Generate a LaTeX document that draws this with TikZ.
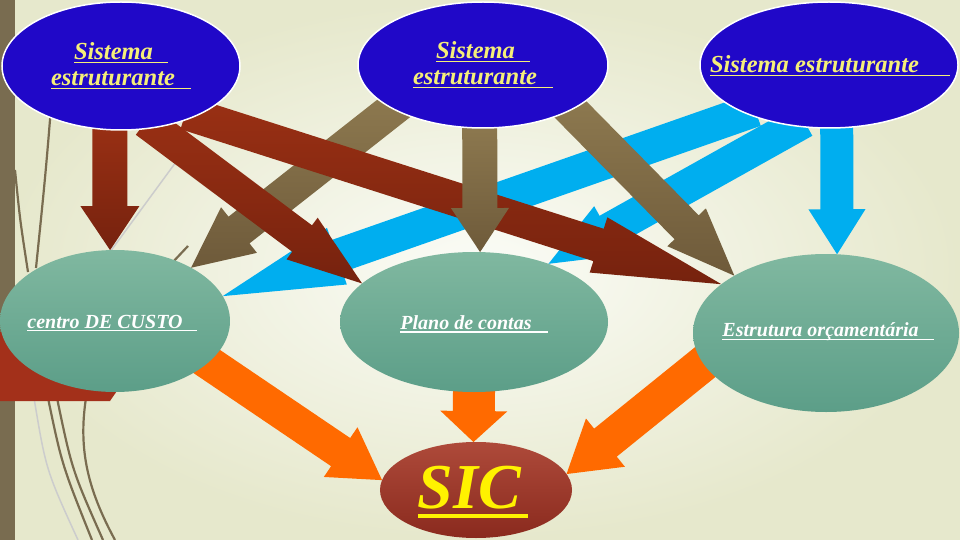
\documentclass[tikz,border=0pt]{standalone}
\usepackage{fontspec}
\setmainfont{Liberation Serif}
\usetikzlibrary{shapes.geometric,calc}

\definecolor{fundoA}{HTML}{FBFCF7}
\definecolor{fundoB}{HTML}{E6E8CC}
\definecolor{barra}{HTML}{796C50}
\definecolor{azulsis}{HTML}{2008C8}
\definecolor{amarelo}{HTML}{F5EF78}
\definecolor{verdeA}{HTML}{80B8A0}
\definecolor{verdeB}{HTML}{5C9E88}
\definecolor{sicA}{HTML}{AE4A3A}
\definecolor{sicB}{HTML}{8A2A1E}
\definecolor{vermA}{HTML}{9A3014}
\definecolor{vermB}{HTML}{76220E}
\definecolor{bloco}{HTML}{A3301A}
\definecolor{marromA}{HTML}{8E7A50}
\definecolor{marromB}{HTML}{6E5A3A}
\definecolor{ciano}{HTML}{00AEEF}
\definecolor{laranja}{HTML}{FF6A00}

\pgfdeclarelayer{fundo}
\pgfdeclarelayer{setas}
\pgfsetlayers{fundo,setas,main}

\tikzset{
  sistema/.style={ellipse, draw=white, line width=1.5pt, fill=azulsis, inner sep=0pt, outer sep=0pt},
  destino/.style={ellipse, top color=verdeA, bottom color=verdeB, inner sep=0pt, outer sep=0pt},
  sicel/.style={ellipse, top color=sicA, bottom color=sicB, inner sep=0pt, outer sep=0pt},
  txtsis/.style={text=amarelo, font=\fontsize{24.5}{26}\selectfont\bfseries\itshape, align=center, inner sep=0pt},
  txtdest/.style={text=white, font=\fontsize{20}{22}\selectfont\bfseries\itshape, inner sep=0pt},
  txtsic/.style={text=yellow, font=\fontsize{64}{70}\selectfont\bfseries\itshape, inner sep=0pt},
  vermelha/.style={top color=vermA, bottom color=vermB},
  marrom/.style={top color=marromA, bottom color=marromB},
  risco/.style={draw=barra, line width=2.2pt},
  riscoclaro/.style={draw=black!20, line width=1.5pt}
}

% texto sublinhado, com espaco no fim
\newsavebox{\caixasub}
\newcommand{\sublinha}[2]{\sbox{\caixasub}{#1\hspace*{#2}}\rlap{\rule[-0.16em]{\wd\caixasub}{0.07em}}\usebox{\caixasub}}

% seta larga: estilo, origem, ponta, meia haste, meia ponta, comprimento da ponta
\newcommand{\seta}[6]{%
  \coordinate (sa) at ($#2!-10pt!#3$);
  \coordinate (sb) at ($#3!#6pt!#2$);
  \path[#1] ($(sa)!#4pt!90:#3$) -- ($(sb)!#4pt!90:#3$) -- ($(sb)!#5pt!90:#3$) -- #3
    -- ($(sb)!#5pt!-90:#3$) -- ($(sb)!#4pt!-90:#3$) -- ($(sa)!#4pt!-90:#3$) -- cycle;
}

\begin{document}
\begin{tikzpicture}[x=1pt,y=-1pt]
  \useasboundingbox (0,0) rectangle (960,540);

  % Sistemas estruturantes
  \node[sistema, minimum width=238pt, minimum height=128pt] (sisA) at (121,66) {};
  \node[sistema, minimum width=250pt, minimum height=126pt] (sisB) at (483,65) {};
  \node[sistema, minimum width=258pt, minimum height=126pt] (sisC) at (829,65) {};
  % Destinos
  \node[destino, minimum width=230pt, minimum height=142pt] (custo) at (115,321) {};
  \node[destino, minimum width=268pt, minimum height=140pt] (plano) at (474,322) {};
  \node[destino, minimum width=266pt, minimum height=158pt] (orcam) at (826,333) {};
  \node[sicel, minimum width=192pt, minimum height=96pt] (sic) at (476,490) {};

  % Textos
  \node[txtsis] (tA) at (121,66) {\sublinha{Sistema}{15pt}\\\sublinha{estruturante}{16pt}};
  \node[txtsis] (tB) at (483,65) {\sublinha{Sistema}{15pt}\\\sublinha{estruturante}{16pt}};
  \node[txtsis] (tC) at (830,66) {\sublinha{Sistema estruturante}{31pt}};
  \node[txtdest] (tD) at (112,323) {\sublinha{centro DE CUSTO}{14pt}};
  \node[txtdest] (tE) at (474,324) {\sublinha{Plano de contas}{16pt}};
  \node[txtdest] (tF) at (828,332) {\sublinha{Estrutura orçamentária}{15pt}};
  \node[txtsic] (tG) at (473,492) {\sublinha{SIC}{7pt}};

  \begin{pgfonlayer}{fundo}
    \shade[inner color=fundoA, outer color=fundoB] (0,0) rectangle (960,540);
    % barra e riscos da esquerda
    \fill[barra] (0,0) rectangle (15,540);
    \draw[risco] (54,70) .. controls (46,170) .. (36,268);
    \draw[risco] (15,170) .. controls (20,220) .. (28,272);
    \draw[riscoclaro] (176,162) -- (110,252);
    \draw[risco] (188,246) -- (172,263);
    \draw[riscoclaro] (34,398) .. controls (46,470) .. (78,540);
    \draw[risco] (48,398) .. controls (62,465) .. (92,540);
    \draw[risco] (57,398) .. controls (72,470) .. (103,540);
    \draw[risco] (86,398) .. controls (78,450) and (88,490) .. (115,540);
    % bloco vermelho
    \fill[bloco] (0,332) -- (130,332) -- (130,372) -- (110,401) -- (0,401) -- cycle;
  \end{pgfonlayer}

  \begin{pgfonlayer}{setas}
    \seta{fill=ciano}{(sisC.-150.5)}{(custo.13.3)}{17}{30}{121}
    \seta{fill=ciano}{(sisC.-119.7)}{(plano.38.1)}{17}{28}{68}
    \seta{marrom}{(sisB.-154.5)}{(custo.35)}{17}{29}{61}
    \seta{vermelha}{(sisA.-100)}{(custo.94)}{17.5}{29.5}{44}
    \seta{vermelha}{(sisA.-62)}{(plano.161.6)}{16.5}{26}{75}
    \seta{vermelha}{(sisA.-34.8)}{(orcam.155.4)}{17}{29}{129}
    \seta{marrom}{(sisB.-93.6)}{(plano.85.9)}{17.5}{29}{44}
    \seta{marrom}{(sisB.-27.35)}{(orcam.148.3)}{17}{27}{68}
    \seta{fill=ciano}{(sisC.-83.7)}{(orcam.82.3)}{16.5}{28.5}{45}
    \seta{fill=laranja}{(custo.-24)}{(sic.174.2)}{17}{30}{50}
    \seta{fill=laranja}{(plano.-90)}{(sic.93.6)}{21}{33.5}{31}
    \seta{fill=laranja}{(orcam.-166.7)}{(sic.10.6)}{18}{31}{50}
  \end{pgfonlayer}
\end{tikzpicture}
\end{document}
